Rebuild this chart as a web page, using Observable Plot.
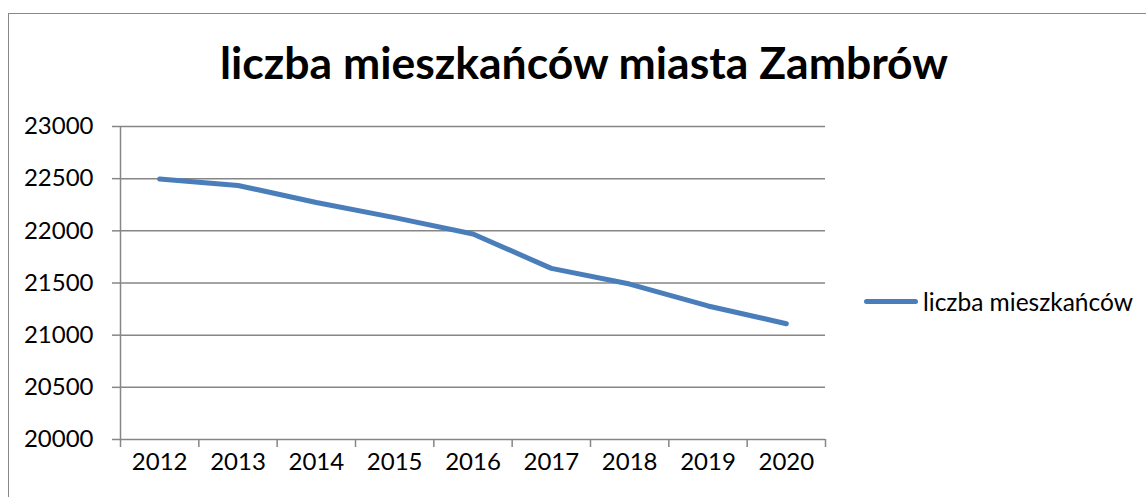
<!DOCTYPE html>
<html>
<head>
<meta charset="utf-8">
<script src="https://cdn.jsdelivr.net/npm/d3@7"></script>
<script src="https://cdn.jsdelivr.net/npm/@observablehq/plot@0.6"></script>
<style>
  html, body { margin: 0; padding: 0; background: #fff; }
  #wrap { position: relative; width: 1146px; height: 497px; overflow: hidden; font-family: Lato, "Open Sans", sans-serif; }
  #frame { position: absolute; left: 8px; top: 13px; width: 1300px; height: 700px; border: 1.5px solid #888; box-sizing: border-box; }
  #chart { position: absolute; left: 0; top: 0; }
  #title { position: absolute; left: 0; width: 1168px; top: 40px; text-align: center; font-weight: 700; font-size: 44.5px; line-height: 1; color: #000; white-space: nowrap; }
  #legend { position: absolute; left: 864px; top: 286px; display: flex; align-items: center; font-size: 24.5px; color: #000; white-space: nowrap; height: 30px; }
  #legend .swatch { width: 54px; height: 5px; border-radius: 3px; background: #4a7ebb; margin-right: 5px; }
</style>
</head>
<body>
<div id="wrap">
  <div id="frame"></div>
  <div id="chart"></div>
  <div id="title"></div>
  <div id="legend"><span class="swatch"></span><span id="legendText"></span></div>
</div>
<script>
const titleText = "liczba mieszkańców miasta Zambrów";
const seriesName = "liczba mieszkańców";
const years = [2012, 2013, 2014, 2015, 2016, 2017, 2018, 2019, 2020];
const population = [22497, 22435, 22272, 22127, 21970, 21640, 21490, 21280, 21110];
const yTicks = [20000, 20500, 21000, 21500, 22000, 22500, 23000];

document.getElementById("title").textContent = titleText;
document.getElementById("legendText").textContent = seriesName;

const data = years.map((y, i) => ({year: y, value: population[i]}));
const boundaries = [years[0] - 0.5, ...years.map(y => y + 0.5)];

const chart = Plot.plot({
  width: 1146,
  height: 497,
  marginLeft: 120,
  marginRight: 321,
  marginTop: 126,
  marginBottom: 58,
  style: {fontFamily: "Lato, 'Open Sans', sans-serif", fontSize: "24px", color: "#000", background: "transparent", overflow: "visible"},
  x: {domain: [boundaries[0], boundaries[boundaries.length - 1]]},
  y: {domain: [yTicks[0], yTicks[yTicks.length - 1]]},
  marks: [
    Plot.ruleY(yTicks, {stroke: "#868686", strokeWidth: 1.5}),
    Plot.ruleX([boundaries[0]], {stroke: "#868686", strokeWidth: 1.5}),
    Plot.axisY({ticks: yTicks, tickSize: 8, tickPadding: 19, stroke: "#868686", strokeWidth: 1.5, tickFormat: d => String(d), label: null, fill: "#000"}),
    Plot.axisX({ticks: boundaries, tickSize: 8, stroke: "#868686", strokeWidth: 1.5, tickFormat: () => "", label: null}),
    Plot.axisX({ticks: years, tickSize: 0, tickPadding: 13, tickFormat: d => String(d), label: null, fill: "#000"}),
    Plot.line(data, {x: "year", y: "value", stroke: "#4a7ebb", strokeWidth: 5, strokeLinecap: "round", strokeLinejoin: "round"})
  ]
});
document.getElementById("chart").appendChild(chart);
</script>
</body>
</html>
